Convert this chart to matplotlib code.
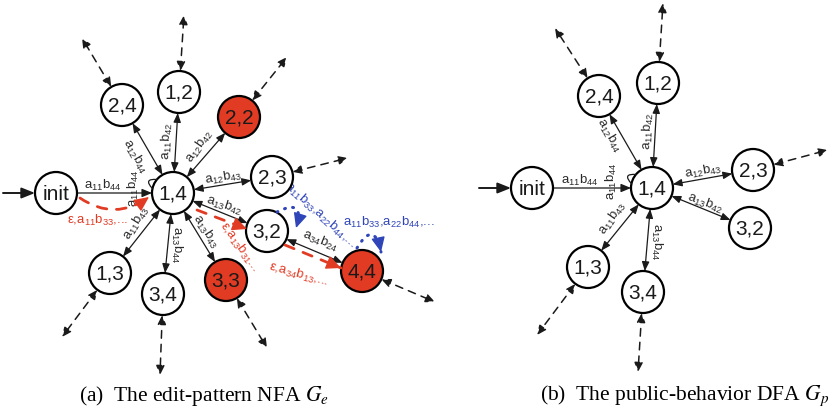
import re
import numpy as np
import matplotlib.pyplot as plt
from matplotlib.patches import Circle, FancyArrowPatch

plt.rcParams['mathtext.fontset'] = 'stix'

RED = '#e23b24'
BLUE = '#2f45b8'
INK = '#1a1a1a'
R = 21

# (a) edit-pattern NFA: states and pixel positions
left_names = ['init', '1,4', '2,4', '1,2', '2,2', '2,3', '3,2', '3,3', '4,4', '1,3', '3,4']
left_x = [56, 173, 122, 179, 239, 272, 267, 226, 362, 110, 163]
left_y = [193, 193, 105, 92, 117, 177, 231, 280, 271, 273, 294]
left_red = ['2,2', '3,3', '4,4']
left_edges = [('1,4', '2,4'), ('1,4', '1,2'), ('1,4', '2,2'), ('1,4', '2,3'),
              ('1,4', '3,2'), ('1,4', '3,3'), ('1,4', '3,4'), ('1,4', '1,3'),
              ('3,2', '4,4')]
left_out = {'2,4': (82, 38), '1,2': (184, 15), '2,2': (287, 57), '2,3': (348, 158),
            '4,4': (435, 302), '3,3': (267, 348), '3,4': (160, 375), '1,3': (62, 337)}
left_labels = [('a_{11}b_{44}', 103, 185, 0), ('a_{11}b_{44}', 133, 188, 90),
               ('a_{12}b_{44}', 135, 157, -60), ('a_{11}b_{42}', 167, 141, 88),
               ('a_{12}b_{42}', 200, 146, 55), ('a_{12}b_{43}', 223, 178, 9),
               ('a_{13}b_{42}', 224, 206, -18), ('a_{13}b_{43}', 206, 232, -57),
               ('a_{13}b_{44}', 177, 245, -90), ('a_{11}b_{43}', 137, 223, 58),
               ('a_{34}b_{24}', 320, 241, -22)]
red_labels = [('ε,a_{11}b_{33},...', 98, 220, 0), ('ε,a_{13}b_{31}...', 239, 247, -54),
              ('ε,a_{34}b_{13},...', 299, 275, -15)]
blue_labels = [('a_{11}b_{33},a_{22}b_{44},...', 320, 215, -42),
               ('a_{11}b_{33},a_{22}b_{44},...', 389, 222, 0)]

# (b) public-behavior DFA
right_names = ['init', '1,4', '2,4', '1,2', '2,3', '3,2', '1,3', '3,4']
right_x = [532, 652, 599, 658, 753, 750, 588, 643]
right_y = [188, 188, 96, 83, 170, 228, 267, 292]
right_edges = [('1,4', '2,4'), ('1,4', '1,2'), ('1,4', '2,3'), ('1,4', '3,2'),
               ('1,4', '1,3'), ('1,4', '3,4')]
right_out = {'2,4': (555, 28), '1,2': (663, 3), '2,3': (828, 150),
             '1,3': (537, 335), '3,4': (638, 372)}
right_labels = [('a_{11}b_{44}', 580, 180, 0), ('a_{11}b_{44}', 611, 181, 90),
                ('a_{12}b_{44}', 609, 136, -60), ('a_{11}b_{42}', 648, 131, 88),
                ('a_{12}b_{43}', 703, 171, 10), ('a_{13}b_{42}', 705, 203, -20),
                ('a_{11}b_{43}', 613, 218, 55), ('a_{13}b_{44}', 657, 242, -90)]

fig = plt.figure(figsize=(8.33, 4.15), dpi=100)
ax = fig.add_axes([0, 0, 1, 1])
ax.set_xlim(0, 833)
ax.set_ylim(415, 0)
ax.axis('off')


def sub(t):
    # only the subscripts go through mathtext, commas and dots stay plain
    return re.sub(r'_\{(\d+)\}', r'$\\mathregular{_{\1}}$', t)


def label(t, x, y, rot, color):
    ax.text(x, y, sub(t), ha='center', va='center', rotation=rot,
            fontsize=9.5, family='Liberation Sans', color=color, zorder=4)


def arrow(p, q, style, **kw):
    a = FancyArrowPatch(p, q, arrowstyle=style, shrinkA=0, shrinkB=0,
                        mutation_scale=10, **kw)
    ax.add_patch(a)


def styled_arrow(p, q, rad, color, ls, lw):
    # curve drawn with its line style, head drawn solid on top
    arrow(p, q, '-', lw=lw, color=color, linestyle=ls, capstyle='round',
          connectionstyle='arc3,rad=%s' % rad, zorder=7)
    ax_, ay_ = p[0], -p[1]
    bx_, by_ = q[0], -q[1]
    dx, dy = bx_ - ax_, by_ - ay_
    cx_, cy_ = (ax_ + bx_) / 2 + rad * dy, (ay_ + by_) / 2 - rad * dx
    t = np.array([bx_ - cx_, -(by_ - cy_)])
    t /= np.hypot(*t)
    s = np.array(q) - 5 * t
    arrow(tuple(s), q, '-|>,head_length=0.9,head_width=0.42', lw=1.0,
          color=color, zorder=8)


def trim(p, q, rp, rq):
    p, q = np.array(p, float), np.array(q, float)
    u = (q - p) / np.hypot(*(q - p))
    return tuple(p + u * rp), tuple(q - u * rq)


def graph(names, xs, ys, edges, outs, labels, reds=()):
    pos = {n: (x, y) for n, x, y in zip(names, xs, ys)}
    for n, (x, y) in pos.items():
        ax.add_patch(Circle((x, y), R, fc=RED if n in reds else 'white',
                            ec='black', lw=1.6, zorder=5))
        ax.text(x, y + 1, n, ha='center', va='center', fontsize=15,
                family='Liberation Sans', color=INK, zorder=6)
    for a, b in edges:
        p, q = trim(pos[a], pos[b], R, R)
        arrow(p, q, '<|-|>,head_length=0.55,head_width=0.22', lw=0.9,
              color=INK, zorder=3)
    for n, o in outs.items():
        q, p = trim(o, pos[n], 0, R)
        arrow(p, q, '<|-|>,head_length=0.55,head_width=0.25', lw=1.1,
              color=INK, linestyle=(0, (5, 4)), zorder=3)
    for t, x, y, rot in labels:
        label(t, x, y, rot, '#2a2a2a')
    # entry arrow, init -> 1,4 and the small self-loop on 1,4
    ix, iy = pos['init']
    arrow((ix - 53, iy), (ix - R, iy), '-|>,head_length=0.8,head_width=0.32',
          lw=1.4, color=INK, zorder=3)
    p, q = trim(pos['init'], pos['1,4'], R, R)
    arrow(p, q, '-|>,head_length=0.6,head_width=0.25', lw=0.9, color=INK,
          zorder=3)
    cx, cy = pos['1,4']
    a1, a2 = np.radians(168), np.radians(140)
    arrow((cx + R * np.cos(a1), cy - R * np.sin(a1)),
          (cx + R * np.cos(a2), cy - R * np.sin(a2)),
          '-', lw=0.9, color=INK, connectionstyle='arc3,rad=-1.3', zorder=6)
    return pos


graph(left_names, left_x, left_y, left_edges, left_out, left_labels, left_red)
graph(right_names, right_x, right_y, right_edges, right_out, right_labels)

# epsilon (red dashed) transitions
red_arrows = [((80, 198), (149, 197), 0.35), ((197, 210), (247, 229), 0.0),
              ((285, 245), (341, 268), 0.0)]
for p, q, rad in red_arrows:
    styled_arrow(p, q, rad, RED, (0, (3.5, 3.5)), 2.0)
for t, x, y, rot in red_labels:
    label(t, x, y, rot, RED)

# blue dotted self-loops
blue_loops = [((277, 212), (296, 228), -1.2), ((357, 248), (381, 252), -1.3)]
for p, q, rad in blue_loops:
    styled_arrow(p, q, rad, BLUE, (0, (0.3, 2.4)), 2.2)
for t, x, y, rot in blue_labels:
    label(t, x, y, rot, BLUE)

ax.text(204, 396, r'(a)  The edit-pattern NFA $G_e$', ha='center', va='center',
        fontsize=15.5, family='Liberation Serif', color='black')
ax.text(685, 396, r'(b)  The public-behavior DFA $G_p$', ha='center', va='center',
        fontsize=15.5, family='Liberation Serif', color='black')

fig.savefig('out.png', dpi=100)
